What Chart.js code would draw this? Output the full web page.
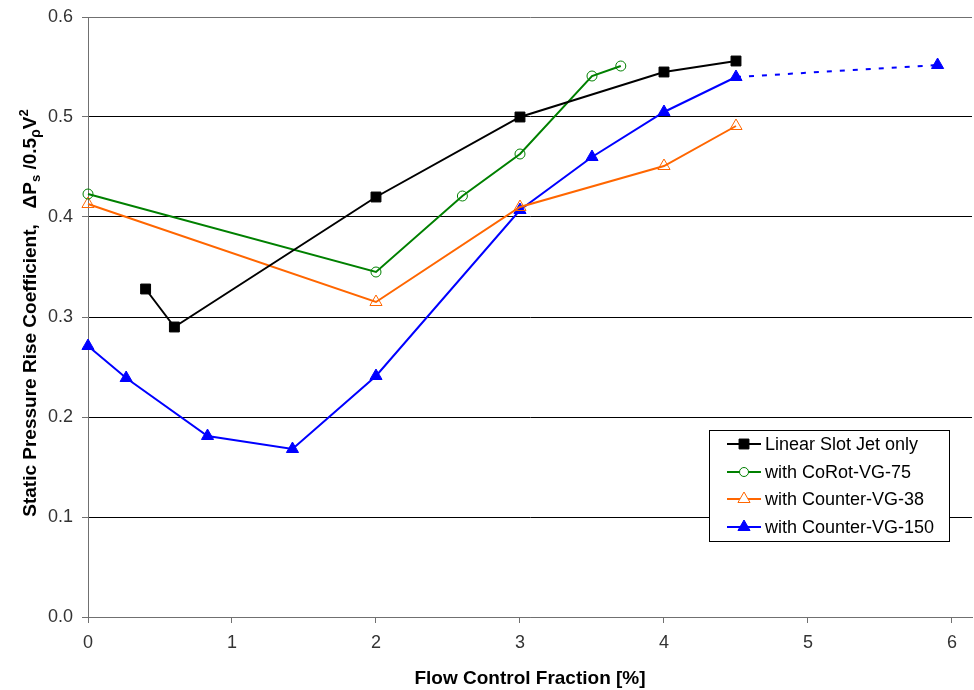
<!DOCTYPE html>
<html>
<head>
<meta charset="utf-8">
<title>Static Pressure Rise vs Flow Control Fraction</title>
<script src="https://cdn.jsdelivr.net/npm/chart.js@4"></script>
<style>
  html, body { margin: 0; padding: 0; background: #fff; }
  #wrap { width: 974px; height: 690px; position: relative; }
</style>
</head>
<body>
<div id="wrap"><canvas id="pressureChart" width="974" height="690"></canvas></div>
<script>
// flow control fraction [%] and static pressure rise coefficient for each configuration
const slotJetX = [0.4, 0.6, 2.0, 3.0, 4.0, 4.5];
const slotJetY = [0.328, 0.290, 0.420, 0.500, 0.545, 0.556];

const corotX = [0, 2.0, 2.6, 3.0, 3.5, 3.7];
const corotY = [0.423, 0.345, 0.421, 0.463, 0.541, 0.551];

const counter38X = [0, 2.0, 3.0, 4.0, 4.5];
const counter38Y = [0.413, 0.315, 0.410, 0.451, 0.491];

const counter150X = [0, 0.265, 0.83, 1.42, 2.0, 3.0, 3.5, 4.0, 4.5, 5.9];
const counter150Y = [0.271, 0.239, 0.181, 0.168, 0.241, 0.407, 0.460, 0.505, 0.540, 0.552];

const xTicks = [0, 1, 2, 3, 4, 5, 6];
const yTicks = [0.0, 0.1, 0.2, 0.3, 0.4, 0.5, 0.6];

const FONT = '"Liberation Sans", Arial, sans-serif';

function toPoints(xs, ys) {
    return xs.map((x, i) => ({ x: x, y: ys[i] }));
}

const datasets = [
    {
        label: 'Linear Slot Jet only',
        data: toPoints(slotJetX, slotJetY),
        borderColor: '#000000',
        backgroundColor: '#000000',
        pointStyle: 'rect',
        pointRadius: 7,
        borderWidth: 2,
        pointBorderWidth: 1
    },
    {
        label: 'with CoRot-VG-75',
        data: toPoints(corotX, corotY),
        borderColor: '#008000',
        backgroundColor: 'rgba(255,255,255,0)',
        pointStyle: 'circle',
        pointRadius: 5,
        borderWidth: 2,
        pointBorderWidth: 1
    },
    {
        label: 'with Counter-VG-38',
        data: toPoints(counter38X, counter38Y),
        borderColor: '#ff6600',
        backgroundColor: 'rgba(255,255,255,0)',
        pointStyle: 'triangle',
        pointRadius: 7,
        borderWidth: 2,
        pointBorderWidth: 1
    },
    {
        label: 'with Counter-VG-150',
        data: toPoints(counter150X, counter150Y),
        borderColor: '#0000ff',
        backgroundColor: '#0000ff',
        pointStyle: 'triangle',
        pointRadius: 7,
        borderWidth: 2,
        pointBorderWidth: 1,
        // last point is an extrapolation, joined with a dotted line
        segment: {
            borderDash: ctx => ctx.p1DataIndex === counter150X.length - 1 ? [5, 8] : undefined
        }
    }
];
datasets.forEach(d => {
    d.clip = false;
    d.tension = 0;
    d.fill = false;
    d.pointBorderColor = d.borderColor;
    d.pointBackgroundColor = d.backgroundColor;
    d.pointHoverRadius = d.pointRadius;
});

// small marker painter for the boxed legend
function drawMarker(ctx, style, x, y, r, stroke, fill) {
    ctx.beginPath();
    if (style === 'rect') {
        const s = r * Math.SQRT1_2;
        ctx.rect(x - s, y - s, 2 * s, 2 * s);
    } else if (style === 'circle') {
        ctx.arc(x, y, r, 0, Math.PI * 2);
    } else {
        ctx.moveTo(x, y - r);
        ctx.lineTo(x + r * 0.866, y + r / 2);
        ctx.lineTo(x - r * 0.866, y + r / 2);
        ctx.closePath();
    }
    ctx.fillStyle = fill;
    ctx.fill();
    ctx.lineWidth = 1;
    ctx.strokeStyle = stroke;
    ctx.stroke();
}

const boxLegend = {
    id: 'boxLegend',
    afterDraw(chart) {
        const ctx = chart.ctx;
        const left = 709.5, top = 430.5, w = 240, h = 111;
        ctx.save();
        ctx.fillStyle = '#ffffff';
        ctx.fillRect(left, top, w, h);
        ctx.strokeStyle = '#000000';
        ctx.lineWidth = 1;
        ctx.strokeRect(left, top, w, h);
        const rows = [444, 472, 499, 527];
        chart.data.datasets.forEach((ds, i) => {
            const y = rows[i];
            ctx.beginPath();
            ctx.moveTo(727, y);
            ctx.lineTo(761, y);
            ctx.strokeStyle = ds.borderColor;
            ctx.lineWidth = 2;
            ctx.stroke();
            const r = ds.pointStyle === 'circle' ? 4.5 : 7;
            drawMarker(ctx, ds.pointStyle, 744, y, r, ds.borderColor,
                ds.pointStyle === 'circle' || ds.label.endsWith('38') ? '#ffffff' : ds.backgroundColor);
            ctx.fillStyle = '#000000';
            ctx.font = '18px ' + FONT;
            ctx.textAlign = 'left';
            ctx.textBaseline = 'middle';
            ctx.fillText(ds.label, 765, y + 1);
        });
        ctx.restore();
    }
};

// rotated y-axis title with sub- and superscripts
const yTitle = {
    id: 'yTitle',
    afterDraw(chart) {
        const ctx = chart.ctx;
        const parts = [
            { t: 'Static Pressure Rise Coefficient,   ', size: 19, dy: 0 },
            { t: '\u0394P', size: 19, dy: 0 },
            { t: 's', size: 13, dy: 4 },
            { t: ' /0.5', size: 19, dy: 0 },
            { t: '\u03C1', size: 14, dy: 4 },
            { t: 'V', size: 19, dy: 0 },
            { t: '2', size: 13, dy: -8 }
        ];
        ctx.save();
        let total = 0;
        parts.forEach(p => {
            ctx.font = 'bold ' + p.size + 'px ' + FONT;
            p.w = ctx.measureText(p.t).width;
            total += p.w;
        });
        const area = chart.chartArea;
        const cy = (area.top + area.bottom) / 2 - 4;
        ctx.translate(36, cy + total / 2);
        ctx.rotate(-Math.PI / 2);
        ctx.fillStyle = '#000000';
        ctx.textAlign = 'left';
        ctx.textBaseline = 'alphabetic';
        let x = 0;
        parts.forEach(p => {
            ctx.font = 'bold ' + p.size + 'px ' + FONT;
            ctx.fillText(p.t, x, p.dy);
            x += p.w;
        });
        ctx.restore();
    }
};

const ctx = document.getElementById('pressureChart').getContext('2d');
const myChart = new Chart(ctx, {
    type: 'line',
    data: { datasets: datasets },
    plugins: [boxLegend, yTitle],
    options: {
        responsive: false,
        animation: false,
        layout: { autoPadding: false, padding: { left: 0, right: 2, top: 17, bottom: 0 } },
        plugins: {
            legend: { display: false },
            tooltip: { enabled: false }
        },
        scales: {
            x: {
                type: 'linear',
                min: xTicks[0],
                max: 6.139,
                afterFit: scale => {
                    scale.height = 73;
                    scale.paddingLeft = 0;
                    scale.paddingRight = 0;
                },
                afterBuildTicks: scale => { scale.ticks = xTicks.map(v => ({ value: v })); },
                border: { display: true, color: '#707070', width: 1 },
                grid: {
                    drawOnChartArea: false,
                    drawTicks: true,
                    tickLength: 6,
                    color: '#707070',
                    tickColor: '#707070'
                },
                ticks: {
                    padding: 9,
                    color: '#333333',
                    font: { family: FONT, size: 18 },
                    maxRotation: 0,
                    callback: v => String(v)
                },
                title: {
                    display: true,
                    text: 'Flow Control Fraction [%]',
                    color: '#000000',
                    font: { family: FONT, size: 19, weight: 'bold' },
                    padding: { top: 0, bottom: 0 }
                }
            },
            y: {
                type: 'linear',
                min: yTicks[0],
                max: yTicks[yTicks.length - 1],
                afterFit: scale => {
                    scale.width = 88;
                    scale.paddingTop = 0;
                    scale.paddingBottom = 0;
                },
                afterBuildTicks: scale => { scale.ticks = yTicks.map(v => ({ value: v })); },
                border: { display: true, color: '#707070', width: 1 },
                grid: {
                    drawTicks: true,
                    tickLength: 6,
                    color: c => (c.tick && (c.tick.value === 0.6 || c.tick.value === 0)) ? '#707070' : '#000000',
                    tickColor: '#707070'
                },
                ticks: {
                    padding: 9,
                    color: '#333333',
                    font: { family: FONT, size: 18 },
                    callback: v => Number(v).toFixed(1)
                }
            }
        }
    }
});
</script>
</body>
</html>
